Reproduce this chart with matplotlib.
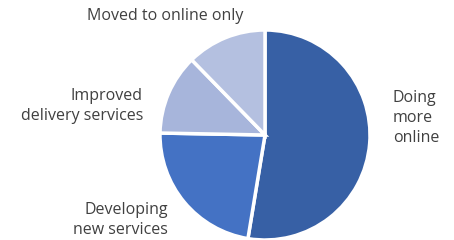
import matplotlib.pyplot as plt

labels = ['Doing more online', 'Developing new services', 'Improved delivery services', 'Moved to online only']
values = [52.6, 22.7, 12.4, 12.3]
colors = ['#3760A5', '#4472C4', '#A7B5DB', '#B4C0E0']

W, H = 454, 240
fig = plt.figure(figsize=(W / 100, H / 100), dpi=100)
cx, cy, r = 265, 135, 105
ax = fig.add_axes([(cx - r) / W, (H - cy - r) / H, 2 * r / W, 2 * r / H])
ax.pie(values, colors=colors, startangle=90, counterclock=False,
       wedgeprops=dict(edgecolor='white', linewidth=2.5))
ax.set_xlim(-1, 1)
ax.set_ylim(-1, 1)
ax.set_aspect('auto')
ax.axis('off')

font = dict(family=['Open Sans', 'DejaVu Sans'], fontsize=11.5, color='#404040')


def label(x, y, s, ha):
    fig.text(x / W, 1 - y / H, s, ha=ha, va='center', linespacing=1.3, **font)


label(165, 16, 'Moved to online only', 'center')
label(143, 106, 'Improved\ndelivery services', 'right')
label(168, 220, 'Developing\nnew services', 'right')
label(393, 118, 'Doing\nmore\nonline', 'left')

fig.savefig('out.png', dpi=100)
